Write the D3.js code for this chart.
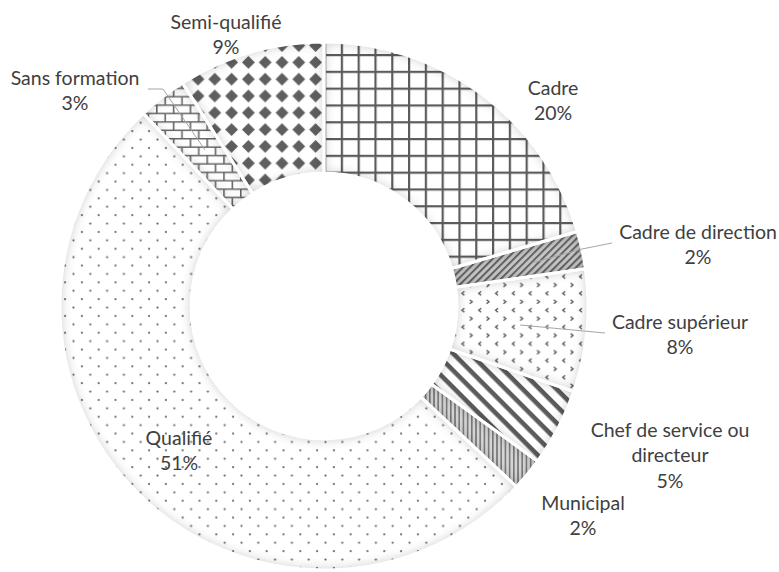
<!DOCTYPE html>
<html>
<head>
<meta charset="utf-8">
<script src="https://cdn.jsdelivr.net/npm/d3@7"></script>
<style>
  body { margin: 0; background: #fff; }
  .lbl { font-family: Lato, "Open Sans", sans-serif; font-size: 19.5px; fill: #404040; }
</style>
</head>
<body>
<div id="chart"></div>
<script>
// chart data
var categories = ["Cadre", "Cadre de direction", "Cadre supérieur", "Chef de service ou\ndirecteur",
    "Municipal", "Qualifié", "Sans formation", "Semi-qualifié"];
var shares = [20.45, 2.3, 7.5, 4.75, 2, 51, 3, 9];
var percentLabels = ["20%", "2%", "8%", "5%", "2%", "51%", "3%", "9%"];

var svgWidth = 779;
var svgHeight = 572;
var cx = 324, cy = 306;
var outerR = 264, innerR = 133;
var u = 16.8;          // pattern unit
var fg = "#5b5b5b";

// where each label sits (center x, center y of first line) and its leader line
var labelPos = [
    { x: 553, y: 88 },
    { x: 698, y: 232, leader: [[612, 243], [582, 249], [532, 263]] },
    { x: 680, y: 322, leader: [[605, 333], [520, 325]] },
    { x: 670, y: 430 },
    { x: 583, y: 503 },
    { x: 179, y: 438 },
    { x: 75, y: 78, leader: [[148, 89], [163, 89], [205, 150]] },
    { x: 226, y: 22 }
];

var svg = d3.select("#chart")
    .append("svg")
    .attr("width", svgWidth)
    .attr("height", svgHeight);

var defs = svg.append("defs");

// inner shadow, like the soft edges in the office chart
var filter = defs.append("filter")
    .attr("id", "inner")
    .attr("filterUnits", "userSpaceOnUse")
    .attr("x", -420).attr("y", -420)
    .attr("width", 840).attr("height", 840);
filter.append("feFlood").attr("flood-color", "#000").attr("flood-opacity", 0.5).attr("result", "flood");
filter.append("feComposite").attr("in", "flood").attr("in2", "SourceAlpha").attr("operator", "out").attr("result", "outside");
filter.append("feGaussianBlur").attr("in", "outside").attr("stdDeviation", 6).attr("result", "blur");
filter.append("feComposite").attr("in", "blur").attr("in2", "SourceAlpha").attr("operator", "in").attr("result", "shadow");
var merge = filter.append("feMerge");
merge.append("feMergeNode").attr("in", "SourceGraphic");
merge.append("feMergeNode").attr("in", "shadow");

function makePattern(id, w, h, bg, transform) {
    var p = defs.append("pattern")
        .attr("id", id)
        .attr("patternUnits", "userSpaceOnUse")
        .attr("width", w)
        .attr("height", h);
    if (transform) p.attr("patternTransform", transform);
    p.append("rect").attr("width", w).attr("height", h).attr("fill", bg);
    return p;
}

// Cadre: large grid
var pGrid = makePattern("p0", u, u, "#fff");
pGrid.append("rect").attr("width", 2.2).attr("height", u).attr("fill", fg);
pGrid.append("rect").attr("width", u).attr("height", 2.2).attr("fill", fg);

// Cadre de direction: dark upward diagonal
var pUp = makePattern("p1", 5, 5, "#c4c4c4", "rotate(-45)");
pUp.append("rect").attr("width", 5).attr("height", 1.8).attr("fill", fg);

// Cadre supérieur: divot
var pDiv = makePattern("p2", u, u, "#fff");
pDiv.append("path").attr("d", "M6,2.2 L3.6,4.2 L6,6.2").attr("fill", "none").attr("stroke", fg).attr("stroke-width", 1.4);
pDiv.append("path").attr("d", "M11.4,10.6 L13.8,12.6 L11.4,14.6").attr("fill", "none").attr("stroke", fg).attr("stroke-width", 1.4);

// Chef de service: wide downward diagonal
var pDown = makePattern("p3", 12, 12, "#fff", "rotate(45)");
pDown.append("rect").attr("width", 12).attr("height", 4.6).attr("fill", fg);

// Municipal: narrow vertical
var pVert = makePattern("p4", 4.2, 4.2, "#d6d6d6");
pVert.append("rect").attr("width", 1.6).attr("height", 4.2).attr("fill", "#777");

// Qualifié: dots
var pDots = makePattern("p5", u, u, "#fff");
pDots.append("circle").attr("cx", 1.5).attr("cy", 1.5).attr("r", 1.1).attr("fill", "#666");
pDots.append("circle").attr("cx", 1.5 + u / 2).attr("cy", 1.5 + u / 2).attr("r", 1.1).attr("fill", "#666");

// Sans formation: horizontal brick
var pBrick = makePattern("p6", u, u, "#fff");
pBrick.append("path")
    .attr("d", "M0,0.8H" + u + "M0," + (u / 2 + 0.8) + "H" + u +
        "M0.8,0V" + (u / 2) + "M" + (u / 2 + 0.8) + "," + (u / 2) + "V" + u)
    .attr("stroke", "#666").attr("stroke-width", 1.6).attr("fill", "none");

// Semi-qualifié: solid diamond
var pDia = makePattern("p7", u, u, "#fff");
pDia.append("path")
    .attr("d", "M" + (u / 2) + "," + (u / 2 - 6.4) + "L" + (u / 2 + 6.4) + "," + (u / 2) +
        "L" + (u / 2) + "," + (u / 2 + 6.4) + "L" + (u / 2 - 6.4) + "," + (u / 2) + "Z")
    .attr("fill", "#5f5f5f");

// pie layout
var pie = d3.pie().sort(null).value(d => d);
var arc = d3.arc().innerRadius(innerR).outerRadius(outerR);
var arcs = pie(shares);

var chartGroup = svg.append("g")
    .attr("transform", `translate(${cx}, ${cy})`);

// slices: pattern fill + inner shadow
chartGroup.selectAll("path.slice")
    .data(arcs)
    .enter()
    .append("path")
    .attr("class", "slice")
    .attr("d", arc)
    .attr("fill", (d, i) => `url(#p${i})`)
    .attr("filter", "url(#inner)");

// white separators
chartGroup.selectAll("path.sep")
    .data(arcs)
    .enter()
    .append("path")
    .attr("class", "sep")
    .attr("d", arc)
    .attr("fill", "none")
    .attr("stroke", "#fff")
    .attr("stroke-width", 3)
    .attr("stroke-linejoin", "round");

// leader lines
var line = d3.line();
svg.selectAll("path.leader")
    .data(labelPos.filter(d => d.leader))
    .enter()
    .append("path")
    .attr("class", "leader")
    .attr("d", d => line(d.leader))
    .attr("fill", "none")
    .attr("stroke", "#a6a6a6")
    .attr("stroke-width", 1);

// labels
var lineGap = 25.5;
categories.forEach(function (name, i) {
    var lines = name.split("\n").concat([percentLabels[i]]);
    var t = svg.append("text")
        .attr("class", "lbl")
        .attr("text-anchor", "middle");
    lines.forEach(function (s, k) {
        t.append("tspan")
            .attr("x", labelPos[i].x)
            .attr("y", labelPos[i].y + k * lineGap)
            .attr("dy", "0.35em")
            .text(s);
    });
});
</script>
</body>
</html>
